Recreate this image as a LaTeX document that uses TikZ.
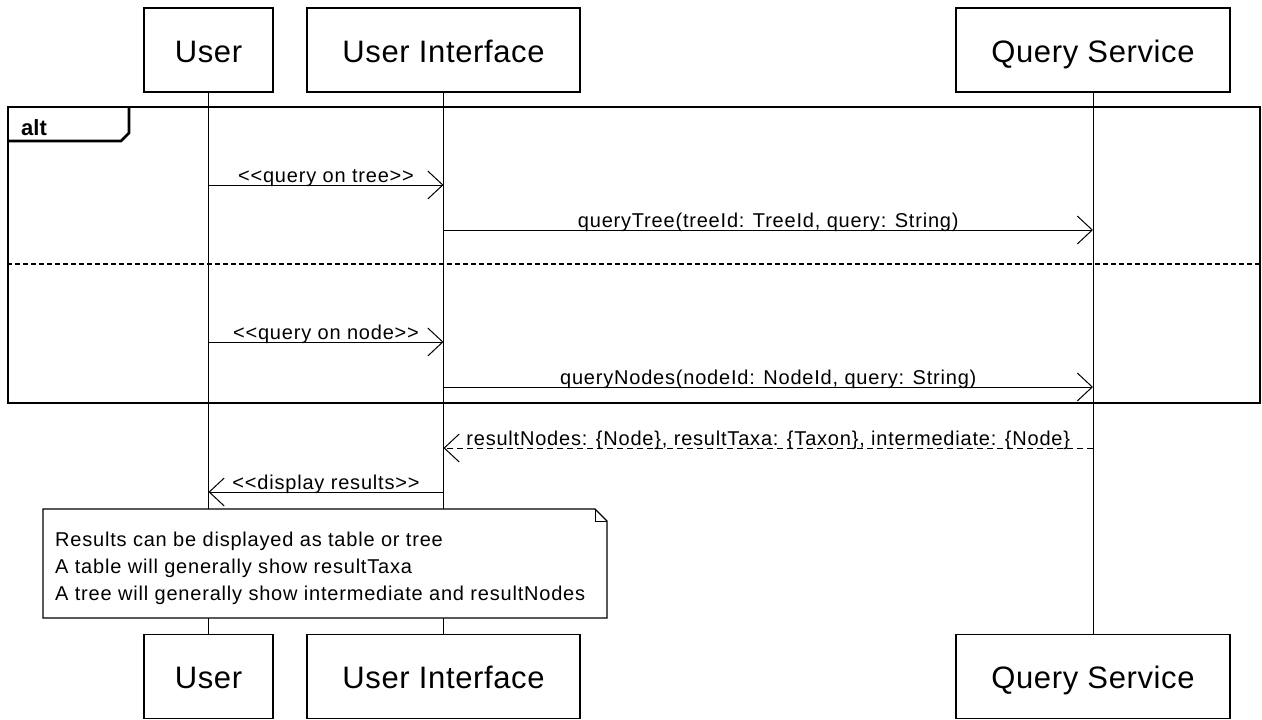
\documentclass[tikz,border=0pt]{standalone}
\usepackage{fontspec}
\setmainfont{Liberation Sans}
\newfontfamily\lblfont[LetterSpace=4]{Liberation Sans}
\newfontfamily\headfont[LetterSpace=2]{Liberation Sans}
\usetikzlibrary{arrows.meta}

\tikzset{
  lifebox/.style={draw, line width=1.3pt, fill=white, inner sep=0pt,
    minimum height=84pt, text height=24pt, text depth=0pt,
    font=\headfont\fontsize{31}{36}\selectfont},
  life/.style={line width=1pt},
  msg/.style={line width=1pt, -{Straight Barb[length=15pt,width=28pt]}},
  reply/.style={msg, dash pattern=on 6pt off 4pt},
  lbl/.style={midway, anchor=base, yshift=3pt, inner sep=0pt,
    font=\lblfont\fontsize{20}{24}\selectfont},
  framebox/.style={draw, line width=2.6pt, inner sep=0pt},
  notebox/.style={draw, line width=1.3pt, fill=white},
}

\begin{document}
\begin{tikzpicture}[x=1pt,y=-1pt]
\useasboundingbox (0,0) rectangle (1262,720);

% participants, top and bottom
\node[lifebox, minimum width=129pt] (uTop)  at (208.5,50) {User};
\node[lifebox, minimum width=273pt] (uiTop) at (443.5,50) {User Interface};
\node[lifebox, minimum width=274pt] (qsTop) at (1093,50)  {Query Service};
\node[lifebox, minimum width=129pt] (uBot)  at (208.5,676.5) {User};
\node[lifebox, minimum width=273pt] (uiBot) at (443.5,676.5) {User Interface};
\node[lifebox, minimum width=274pt] (qsBot) at (1093,676.5)  {Query Service};

% lifelines
\draw[life] (uTop.south)  -- (uBot.north);
\draw[life] (uiTop.south) -- (uiBot.north);
\draw[life] (qsTop.south) -- (qsBot.north);

% alt fragment
\node[framebox, minimum width=1252pt, minimum height=296pt] (frame) at (634,255) {};
\draw[line width=2.6pt, line join=miter] (8,141) -- (121,141) -- (129,133) -- (129,107);
\node[anchor=base west, inner sep=0pt, font=\bfseries\fontsize{22}{26}\selectfont] (altlbl) at (21,135) {alt};
\coordinate (sep) at (0,264);
\draw[line width=2.6pt, dash pattern=on 5pt off 3pt] (frame.west |- sep) -- (frame.east |- sep);

% message rows
\coordinate (r1) at (0,185);
\coordinate (r2) at (0,230);
\coordinate (r3) at (0,342);
\coordinate (r4) at (0,387);
\coordinate (r5) at (0,448);
\coordinate (r6) at (0,492);

\draw[msg] (uTop.south |- r1) -- node[lbl] {<<query on tree>>} (uiTop.south |- r1);
\draw[msg] (uiTop.south |- r2) -- node[lbl] {queryTree(treeId: TreeId, query: String)} (qsTop.south |- r2);
\draw[msg] (uTop.south |- r3) -- node[lbl] {<<query on node>>} (uiTop.south |- r3);
\draw[msg] (uiTop.south |- r4) -- node[lbl] {queryNodes(nodeId: NodeId, query: String)} (qsTop.south |- r4);
\draw[reply] (qsTop.south |- r5) -- node[lbl] {resultNodes: \{Node\}, resultTaxa: \{Taxon\}, intermediate: \{Node\}} (uiTop.south |- r5);
\draw[msg] (uiTop.south |- r6) -- node[lbl] {<<display results>>} (uTop.south |- r6);

% note with folded corner
\draw[notebox] (43,509) -- (595,509) -- (607,521) -- (607,618) -- (43,618) -- cycle;
\draw[line width=1pt] (595,509) -- (595,521) -- (607,521);
\node[anchor=north west, inner sep=0pt, align=left,
      font=\lblfont\fontsize{20}{27}\selectfont] (note) at (55,531.5)
  {Results can be displayed as table or tree\\
   A table will generally show resultTaxa\\
   A tree will generally show intermediate and resultNodes};
\end{tikzpicture}
\end{document}
